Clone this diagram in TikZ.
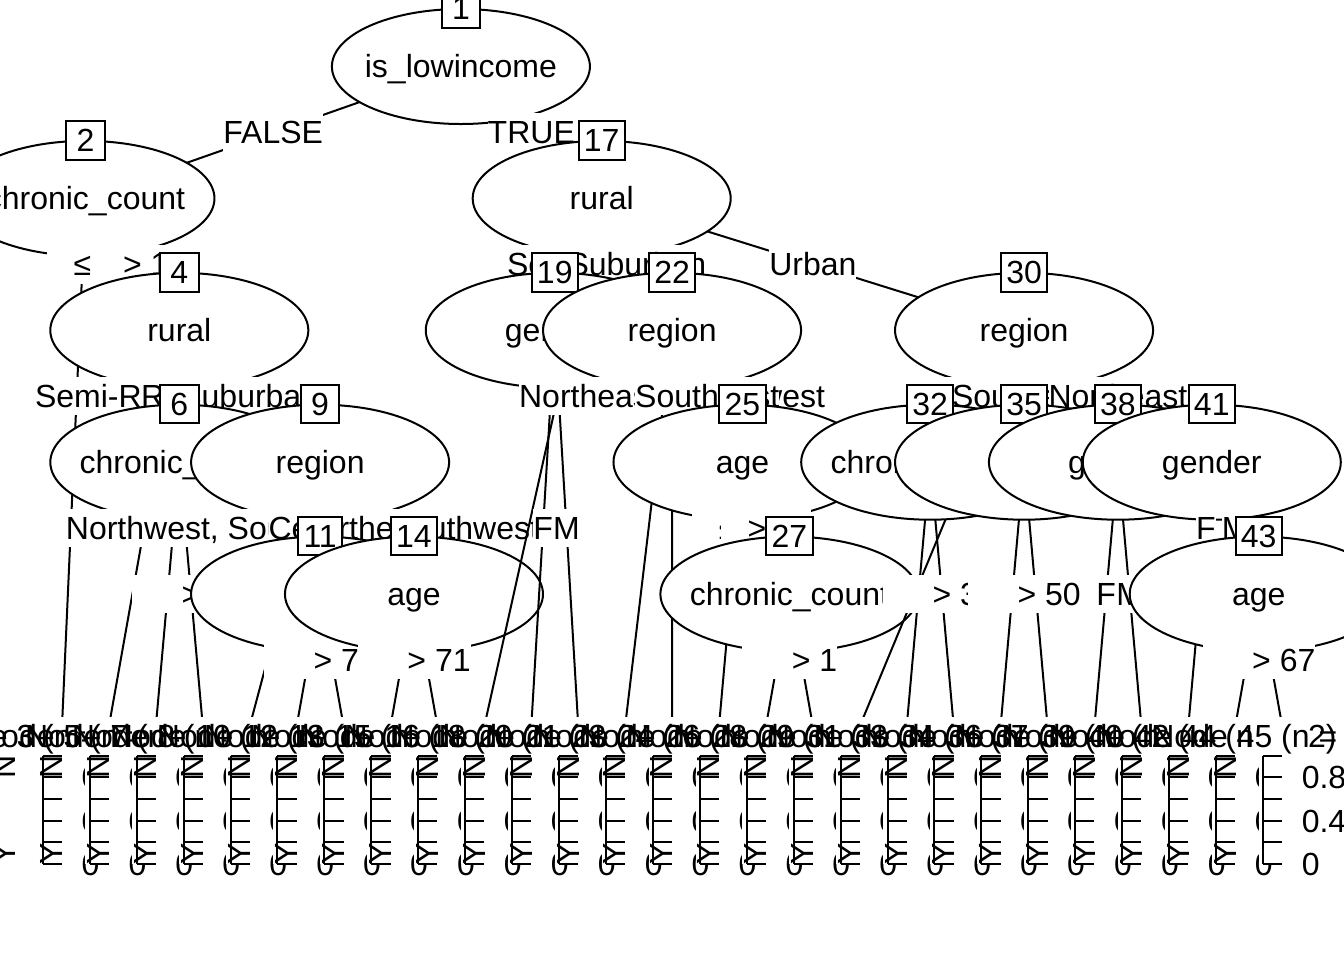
\documentclass[tikz,border=0pt]{standalone}
\usepackage{fontspec}
\setmainfont{Liberation Sans}
\usetikzlibrary{shapes.geometric}
\newcommand\fs{\fontsize{16pt}{19.2pt}\selectfont}
\tikzset{
  x=0.5pt, y=-0.5pt,
  conn/.style={line width=1pt},
  ell/.style={ellipse, draw, fill=white, line width=1pt, minimum width=129pt, minimum height=57.5pt, inner sep=0pt},
  vtxt/.style={inner sep=0pt, text height=11.46pt, text depth=0pt, font=\fs},
  idb/.style={draw, fill=white, line width=1pt, inner xsep=2.67pt, inner ysep=0pt, minimum width=19.2pt, minimum height=19.2pt, text height=11.46pt, text depth=0pt, font=\fs},
  elab/.style={fill=white, inner sep=0pt, minimum height=19.2pt, text height=11.46pt, text depth=0pt, font=\fs},
}
\newcommand\innode[2]{%
  \node[ell] (e#1) at (n#1) {};
  \node[vtxt] (v#1) at (n#1) {#2};
  \node[idb] (b#1) at ([yshift=29pt]n#1) {#1};
}
\newcommand\tpanel[3]{%
  \pgfmathsetmacro\cx{62+46.93*#2}
  \pgfmathsetmacro\bx{\cx-19.2}
  \fill[white] (\cx-23.47,716.6) rectangle (\cx+23.47,864);
  \node[vtxt] (ttl#1) at (\bx,736.3) {Node #1 (n = #3)};
  \draw[conn] (\bx,755.6) -- (\bx,864);
  \foreach \v in {0,1,...,5} \draw[conn] (\bx,864-21.68*\v) -- ++(19.2,0);
  \node[vtxt,anchor=west] (ya#1) at (\bx+38.4,864) {0};
  \node[vtxt,anchor=west] (yb#1) at (\bx+38.4,820.6) {0.4};
  \node[vtxt,anchor=west] (yc#1) at (\bx+38.4,777.3) {0.8};
  \node[vtxt,rotate=90] (ln#1) at (\bx-38.4,767) {N};
  \node[vtxt,rotate=90] (ly#1) at (\bx-38.4,854) {Y};
}
\begin{document}
\begin{tikzpicture}
\useasboundingbox (0,0) rectangle (1344,960);
\fill[white] (0,0) rectangle (1344,960);
\clip (0,0) rectangle (1344,960);
% inner node centres
\foreach \id/\t/\L in {1/9/0, 2/1/1, 17/12/1, 4/3/2, 19/11/2, 22/13.5/2, 30/21/2,
  6/3/3, 9/6/3, 25/15/3, 32/19/3, 35/21/3, 38/23/3, 41/25/3,
  11/6/4, 14/8/4, 27/16/4, 43/26/4}
  \coordinate (n\id) at ({38.53+46.93*\t},{66.5+131.9*\L});
% terminal line ends
\foreach \id/\k in {3/0,5/1,7/2,8/3,10/4,12/5,13/6,15/7,16/8,18/9,20/10,21/11,23/12,24/13,
  26/14,28/15,29/16,31/17,33/18,34/19,36/20,37/21,39/22,40/23,42/24,44/25,45/26}
  \coordinate (tp\id) at ({62+46.93*\k},726);
% ---- node 1
\draw[conn] (n1) -- (n2) (n1) -- (n17);
\innode{1}{is\_lowincome}
\path (n1) -- node[elab] (l2) {FALSE} (n2);
\path (n1) -- node[elab] (l17) {TRUE} (n17);
% ---- node 2
\draw[conn] (n2) -- (tp3) (n2) -- (n4);
\innode{2}{chronic\_count}
\path (n2) -- node[elab,pos=0.125] (l3) {\phantom{0} ≤ 1} (tp3);
\path (n2) -- node[elab] (l4) {\phantom{0} > 1} (n4);
% ---- node 4
\draw[conn] (n4) -- (tp5) (n4) -- (n6) (n4) -- (n9);
\innode{4}{rural}
\path (n4) -- node[elab,pos=0.16667] (l5) {Semi-Rural, Urban} (tp5);
\path (n4) -- node[elab] (l6) {Rural} (n6);
\path (n4) -- node[elab] (l9) {Suburban} (n9);
% ---- node 6
\draw[conn] (n6) -- (tp7) (n6) -- (tp8);
\innode{6}{chronic\_count}
\path (n6) -- node[elab] (l7) {\phantom{0} ≤ 2} (tp7);
\path (n6) -- node[elab] (l8) {\phantom{0} > 2} (tp8);
% ---- node 9
\draw[conn] (n9) -- (tp10) (n9) -- (n11) (n9) -- (n14);
\innode{9}{region}
\path (n9) -- node[elab,pos=0.25] (l10) {Northwest, Southeast, Southwest} (tp10);
\path (n9) -- node[elab] (l11) {Central} (n11);
\path (n9) -- node[elab] (l14) {Northeast} (n14);
% ---- node 11
\draw[conn] (n11) -- (tp12) (n11) -- (tp13);
\innode{11}{age}
\path (n11) -- node[elab] (l12) {\phantom{0} ≤ 73} (tp12);
\path (n11) -- node[elab] (l13) {\phantom{0} > 73} (tp13);
% ---- node 14
\draw[conn] (n14) -- (tp15) (n14) -- (tp16);
\innode{14}{age}
\path (n14) -- node[elab] (l15) {\phantom{0} ≤ 71} (tp15);
\path (n14) -- node[elab] (l16) {\phantom{0} > 71} (tp16);
% ---- node 17
\draw[conn] (n17) -- (tp18) (n17) -- (n19) (n17) -- (n22) (n17) -- (n30);
\innode{17}{rural}
\path (n17) -- node[elab,pos=0.125] (l18) {Semi-Rural} (tp18);
\path (n17) -- node[elab] (l19) {Rural} (n19);
\path (n17) -- node[elab] (l22) {Suburban} (n22);
\path (n17) -- node[elab] (l30) {Urban} (n30);
% ---- node 19
\draw[conn] (n19) -- (tp20) (n19) -- (tp21);
\innode{19}{gender}
\path (n19) -- node[elab] (l20) {F} (tp20);
\path (n19) -- node[elab] (l21) {M} (tp21);
% ---- node 22
\draw[conn] (n22) -- (tp23) (n22) -- (tp24) (n22) -- (n25);
\innode{22}{region}
\path (n22) -- node[elab,pos=0.16667] (l23) {Central, Northwest} (tp23);
\path (n22) -- node[elab,pos=0.16667] (l24) {Northeast, Southwest} (tp24);
\path (n22) -- node[elab] (l25) {Southeast} (n25);
% ---- node 25
\draw[conn] (n25) -- (tp26) (n25) -- (n27);
\innode{25}{age}
\path (n25) -- node[elab,pos=0.25] (l26) {\phantom{0} ≤ 45} (tp26);
\path (n25) -- node[elab] (l27) {\phantom{0} > 45} (n27);
% ---- node 27
\draw[conn] (n27) -- (tp28) (n27) -- (tp29);
\innode{27}{chronic\_count}
\path (n27) -- node[elab] (l28) {\phantom{0} ≤ 1} (tp28);
\path (n27) -- node[elab] (l29) {\phantom{0} > 1} (tp29);
% ---- node 30
\draw[conn] (n30) -- (tp31) (n30) -- (n32) (n30) -- (n35) (n30) -- (n38) (n30) -- (n41);
\innode{30}{region}
\path (n30) -- node[elab,pos=0.16667] (l31) {Southwest} (tp31);
\path (n30) -- node[elab] (l32) {Northwest} (n32);
\path (n30) -- node[elab] (l35) {Southeast} (n35);
\path (n30) -- node[elab] (l38) {Central} (n38);
\path (n30) -- node[elab] (l41) {Northeast} (n41);
% ---- node 32
\draw[conn] (n32) -- (tp33) (n32) -- (tp34);
\innode{32}{chronic\_count}
\path (n32) -- node[elab] (l33) {\phantom{0} ≤ 3} (tp33);
\path (n32) -- node[elab] (l34) {\phantom{0} > 3} (tp34);
% ---- node 35
\draw[conn] (n35) -- (tp36) (n35) -- (tp37);
\innode{35}{age}
\path (n35) -- node[elab] (l36) {\phantom{0} ≤ 50} (tp36);
\path (n35) -- node[elab] (l37) {\phantom{0} > 50} (tp37);
% ---- node 38
\draw[conn] (n38) -- (tp39) (n38) -- (tp40);
\innode{38}{gender}
\path (n38) -- node[elab] (l39) {F} (tp39);
\path (n38) -- node[elab] (l40) {M} (tp40);
% ---- node 41
\draw[conn] (n41) -- (tp42) (n41) -- (n43);
\innode{41}{gender}
\path (n41) -- node[elab,pos=0.25] (l42) {F} (tp42);
\path (n41) -- node[elab] (l43) {M} (n43);
% ---- node 43
\draw[conn] (n43) -- (tp44) (n43) -- (tp45);
\innode{43}{age}
\path (n43) -- node[elab] (l44) {\phantom{0} ≤ 67} (tp44);
\path (n43) -- node[elab] (l45) {\phantom{0} > 67} (tp45);
% ---- terminal panels
\tpanel{3}{0}{41}
\tpanel{5}{1}{25}
\tpanel{7}{2}{18}
\tpanel{8}{3}{14}
\tpanel{10}{4}{19}
\tpanel{12}{5}{12}
\tpanel{13}{6}{15}
\tpanel{15}{7}{16}
\tpanel{16}{8}{11}
\tpanel{18}{9}{26}
\tpanel{20}{10}{21}
\tpanel{21}{11}{24}
\tpanel{23}{12}{28}
\tpanel{24}{13}{23}
\tpanel{26}{14}{32}
\tpanel{28}{15}{18}
\tpanel{29}{16}{20}
\tpanel{31}{17}{34}
\tpanel{33}{18}{27}
\tpanel{34}{19}{16}
\tpanel{36}{20}{22}
\tpanel{37}{21}{17}
\tpanel{39}{22}{19}
\tpanel{40}{23}{21}
\tpanel{42}{24}{24}
\tpanel{44}{25}{12}
\tpanel{45}{26}{2}
\end{tikzpicture}
\end{document}
